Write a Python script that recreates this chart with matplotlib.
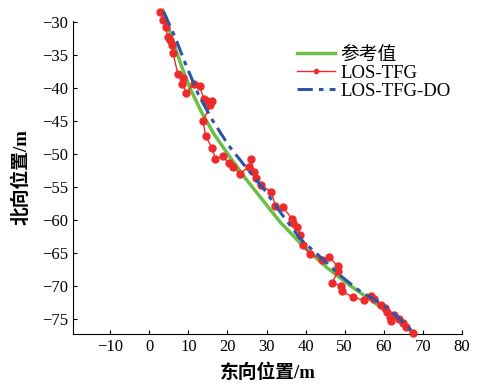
import numpy as np
import matplotlib
matplotlib.use('Agg')
import matplotlib.pyplot as plt

plt.rcParams['font.family'] = ['Liberation Serif', 'Noto Sans CJK SC']
plt.rcParams['axes.unicode_minus'] = True

# reference path
ref_x = [3.5, 6.0, 8.4, 10.5, 13.5, 16.5, 20.8, 24.5, 28.5, 33.6, 39.6, 45.6, 51.5,
         57.5, 62.6, 67.6]
ref_y = [-28.2, -32.8, -36.9, -40.1, -43.8, -46.9, -50.6, -53.6, -56.6, -60.4, -64.1,
         -67.3, -70.0, -72.5, -74.6, -77.2]

# LOS-TFG
tfg_x = [2.8, 3.6, 4.3, 4.7, 5.4, 5.8, 6.1, 7.3, 8.6, 8.5, 9.5, 11.4, 12.9, 13.9, 14.8,
         16.1, 15.6, 13.8, 14.4, 16.1, 16.9, 18.9, 20.3, 21.5, 23.2, 25.5, 26.1, 26.7,
         27.2, 28.5, 31.2, 32.3, 34.3, 36.6, 36.8, 37.9, 38.5, 39.4, 41.0, 44.3, 46.0,
         48.2, 48.3, 46.8, 49.0, 49.2, 52.1, 54.9, 56.7, 57.4, 59.2, 60.3, 60.9, 61.6,
         61.8, 62.6, 63.9, 64.8, 65.6, 67.4]
tfg_y = [-28.5, -29.7, -30.8, -32.2, -32.7, -33.4, -34.7, -37.8, -38.4, -39.4, -40.7,
         -39.3, -39.7, -41.6, -41.9, -41.9, -42.6, -45.0, -47.3, -49.1, -50.7, -50.3,
         -51.4, -52.0, -53.0, -51.9, -50.8, -52.7, -53.7, -54.7, -55.7, -57.9, -58.1,
         -59.9, -60.4, -61.1, -62.3, -63.8, -65.1, -66.0, -65.6, -67.0, -67.8, -69.5,
         -70.0, -70.8, -71.7, -72.2, -71.6, -72.0, -72.9, -73.3, -73.9, -74.7, -75.4,
         -74.4, -75.0, -75.6, -76.2, -77.2]

# LOS-TFG-DO
do_x = [3.7, 6.7, 9.2, 12.6, 16.1, 20.3, 24.6, 29.7, 34.0, 38.7, 45.6, 49.0, 54.1,
        57.5, 60.9, 64.0, 68.2]
do_y = [-28.4, -32.4, -36.2, -41.0, -44.8, -48.7, -51.9, -55.6, -59.2, -62.9, -66.6,
        -68.5, -70.9, -72.0, -73.4, -75.0, -77.4]

fig = plt.figure(figsize=(4.85, 3.87), dpi=100)
ax = fig.add_axes([0.1505, 0.137, 0.802, 0.809])

ax.plot(ref_x, ref_y, color='#6abf45', lw=2.5, label='参考值', clip_on=False, zorder=2)
ax.plot(tfg_x, tfg_y, color='#ee2b2b', lw=1.0, marker='o', ms=5,
        label='LOS-TFG', clip_on=False, zorder=3)
ax.plot(do_x, do_y, color='#2a55a8', lw=2.2, dashes=(5, 2, 1.5, 2),
        label='LOS-TFG-DO', clip_on=False, zorder=4)

ax.set_xlim(-19.5, 80)
ax.set_ylim(-77.3, -29.8)
ax.set_xticks(np.arange(-10, 81, 10))
ax.set_yticks(np.arange(-75, -29, 5))
ax.spines['top'].set_visible(False)
ax.spines['right'].set_visible(False)
ax.tick_params(direction='in', labelsize=12, length=3)

ax.set_xlabel('东向位置/m', fontsize=13.5, fontweight='bold', labelpad=6)
ax.set_ylabel('北向位置/m', fontsize=13.5, fontweight='bold', labelpad=8)

leg = ax.legend(loc='upper right', bbox_to_anchor=(1.0, 0.955), frameon=False,
                fontsize=13.5, handlelength=2.0, labelspacing=0.05,
                handletextpad=0.3, borderaxespad=0.2)
# smaller marker in legend handle
leg.legend_handles[1].set_markersize(3)

fig.savefig('out.png', dpi=100)
